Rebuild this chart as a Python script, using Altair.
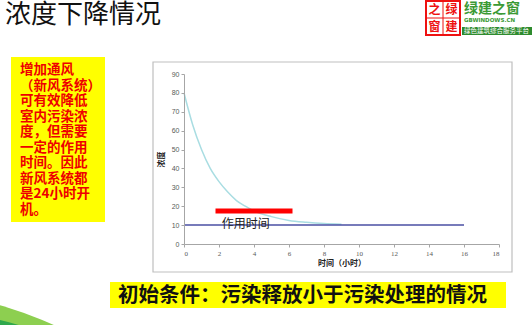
import altair as alt
import pandas as pd

# ---- data ----
times = [0, 0.5, 1, 1.5, 2, 2.5, 3, 3.5, 4, 5, 6, 7, 8, 9]
conc = [80, 63, 50, 40, 33, 27.5, 23, 20, 17.5, 14.5, 12.5, 11.5, 10.8, 10.4]
base_t = [0, 16]
base_c = [10, 10]
bar_start, bar_end, bar_level = 1.8, 6.2, 17.5
note_t, note_c, note_text = 2.15, 10.6, "作用时间"

x_ticks = [0, 2, 4, 6, 8, 10, 12, 14, 16, 18]
y_ticks = [0, 10, 20, 30, 40, 50, 60, 70, 80, 90]
x_title = "时间（小时）"
y_title = "浓度"

slide_title = "浓度下降情况"
side_lines = ["增加通风", "（新风系统）", "可有效降低", "室内污染浓", "度，但需要",
              "一定的作用", "时间。因此", "新风系统都", "是24小时开", "机。"]
bottom_text = "初始条件：污染释放小于污染处理的情况"
logo_cells = ["之", "绿", "窗", "建"]
logo_name = "绿建之窗"
logo_url = "GBWINDOWS.CN"
logo_slogan = "绿色建筑综合服务平台"

FONT = "Noto Sans CJK SC"

xs = alt.Scale(domain=[0, 18], nice=False, zero=False)
ys = alt.Scale(domain=[0, 90], nice=False)
xaxis = alt.Axis(values=x_ticks, title=x_title, grid=False, zindex=1,
                 labelFontSize=7, labelColor="#595959", labelFont="Liberation Serif",
                 domainColor="#a6a6a6", tickColor="#a6a6a6", tickSize=3,
                 titleFontSize=8, titleFont=FONT, titleFontWeight="bold",
                 titleColor="#222", titlePadding=3, labelPadding=2)
yaxis = alt.Axis(values=y_ticks, title=y_title, grid=False, zindex=1,
                 labelFontSize=7, labelColor="#595959", labelFont="Liberation Sans",
                 domainColor="#a6a6a6", tickColor="#a6a6a6", tickSize=3,
                 titleFontSize=8, titleFont=FONT, titleFontWeight="bold",
                 titleColor="#222", titlePadding=6, labelPadding=2)

one = pd.DataFrame({"k": [0]})

def X(field):
    return alt.X(field, type="quantitative", scale=xs, axis=xaxis)

def Y(field):
    return alt.Y(field, type="quantitative", scale=ys, axis=yaxis)

# decorations
swoosh_light = alt.Chart(one).mark_point(shape="circle", filled=True, opacity=1,
                                         color="#8dcf50", strokeWidth=0).encode(
    x=alt.value(-284), y=alt.value(587.5), size=alt.value(4 * 370 * 370))
swoosh_dark = alt.Chart(one).mark_point(shape="circle", filled=True, opacity=1,
                                        color="#2fa84c", strokeWidth=0).encode(
    x=alt.value(-241.5), y=alt.value(497.5), size=alt.value(4 * 258 * 258))

frame = alt.Chart(one).mark_rect(fill="white", stroke="#bfbfbf", strokeWidth=1.2).encode(
    x=alt.value(-31), x2=alt.value(328), y=alt.value(-12), y2=alt.value(198))

title = alt.Chart(one).mark_text(text=slide_title, font=FONT, fontSize=26,
                                 align="left", baseline="middle", color="#111").encode(
    x=alt.value(-179), y=alt.value(-59))

side_box = alt.Chart(one).mark_rect(fill="#ffff00").encode(
    x=alt.value(-173), x2=alt.value(-79), y=alt.value(-17), y2=alt.value(148))
side_text = alt.Chart(one).mark_text(text=side_lines, font=FONT, fontSize=13.5,
                                     fontWeight="bold", lineHeight=15.5,
                                     align="left", baseline="top", color="#ee0000").encode(
    x=alt.value(-164), y=alt.value(-11))

bottom_box = alt.Chart(one).mark_rect(fill="#ffff00").encode(
    x=alt.value(-74), x2=alt.value(322), y=alt.value(208), y2=alt.value(234))
bottom = alt.Chart(one).mark_text(text=bottom_text, font=FONT, fontSize=20.5,
                                  fontWeight="bold", align="left", baseline="middle",
                                  color="#111").encode(
    x=alt.value(-66), y=alt.value(221.5))

# logo
logo_box = alt.Chart(one).mark_rect(fill="white", stroke="#ee1111", strokeWidth=2).encode(
    x=alt.value(242), x2=alt.value(276), y=alt.value(-73), y2=alt.value(-39))
logo_v = alt.Chart(one).mark_rule(color="#ee1111", strokeWidth=1).encode(
    x=alt.value(259), y=alt.value(-73), y2=alt.value(-39))
logo_h = alt.Chart(one).mark_rule(color="#ee1111", strokeWidth=1).encode(
    x=alt.value(242), x2=alt.value(276), y=alt.value(-56))
cells = []
for i, ch in enumerate(logo_cells):
    cells.append(alt.Chart(one).mark_text(text=ch, font=FONT, fontSize=12, fontWeight="bold",
                                          color="#ee1111", align="center", baseline="middle").encode(
        x=alt.value(250.5 + 17 * (i % 2)), y=alt.value(-64.5 + 17 * (i // 2))))
logo_name_t = alt.Chart(one).mark_text(text=logo_name, font=FONT, fontSize=14, fontWeight="bold",
                                       color="#3b9a35", align="left", baseline="middle").encode(
    x=alt.value(280), y=alt.value(-65))
logo_url_t = alt.Chart(one).mark_text(text=logo_url, font="DejaVu Sans", fontSize=5.5, fontWeight="bold",
                                      color="#3b9a35", align="left", baseline="middle").encode(
    x=alt.value(280), y=alt.value(-54))
logo_bar = alt.Chart(one).mark_rect(fill="#2e8b2e").encode(
    x=alt.value(278), x2=alt.value(350), y=alt.value(-47), y2=alt.value(-39))
logo_slogan_t = alt.Chart(one).mark_text(text=logo_slogan, font=FONT, fontSize=6.5,
                                         color="white", align="left", baseline="middle").encode(
    x=alt.value(280), y=alt.value(-43))

# data layers
curve_df = pd.DataFrame({"t": times, "c": conc})
base_df = pd.DataFrame({"t": base_t, "c": base_c})
bar_df = pd.DataFrame({"t": [bar_start], "t2": [bar_end], "c": [bar_level]})
note_df = pd.DataFrame({"t": [note_t], "c": [note_c], "label": [note_text]})

curve = alt.Chart(curve_df).mark_line(color="#a9dde2", strokeWidth=1.5,
                                      interpolate="monotone").encode(x=X("t"), y=Y("c"))
base = alt.Chart(base_df).mark_line(color="#4a4fa3", strokeWidth=1.5).encode(x=X("t"), y=Y("c"))
bar = alt.Chart(bar_df).mark_rule(color="#ff0000", strokeWidth=5).encode(
    x=X("t"), x2="t2", y=Y("c"))
note = alt.Chart(note_df).mark_text(font=FONT, fontSize=12, align="left", baseline="middle",
                                    color="#222").encode(x=X("t"), y=Y("c"), text="label")

chart = alt.layer(
    swoosh_light, swoosh_dark, frame, title, side_box, side_text, bottom_box, bottom,
    logo_box, logo_v, logo_h, *cells, logo_name_t, logo_url_t, logo_bar, logo_slogan_t,
    curve, base, bar, note
).properties(
    width=315, height=170,
    padding={"left": 184, "top": 74, "right": 33, "bottom": 81},
    autosize=alt.AutoSizeParams(type="none"),
    background="white",
).configure_view(stroke=None)

chart.save("out.html", embed_options={"renderer": "svg", "actions": False})
